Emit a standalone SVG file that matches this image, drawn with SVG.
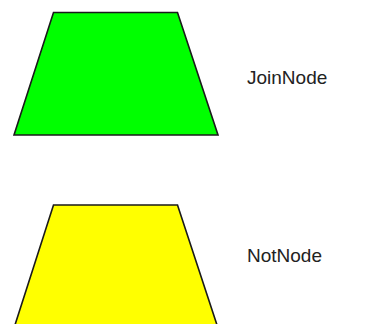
<svg xmlns="http://www.w3.org/2000/svg" width="371" height="324" viewBox="0 0 371 324">
<style>
.shape{stroke:#1a1a1a;stroke-width:1.6;stroke-linejoin:miter}
.lbl{font-family:"Liberation Sans",Arial,sans-serif;font-size:19px;fill:#222}
</style>
<rect width="371" height="324" fill="#fff"/>
<g id="join">
<polygon class="shape" points="53.5,12.5 177.5,12.5 218,135 14,135" fill="#00ff00"/>
<text class="lbl" x="247" y="84">JoinNode</text>
</g>
<g id="not">
<polygon class="shape" points="53.5,205 177.5,205 218,328 14,328" fill="#ffff00"/>
<text class="lbl" x="247" y="262">NotNode</text>
</g>
<g id="connectors"></g>
</svg>
